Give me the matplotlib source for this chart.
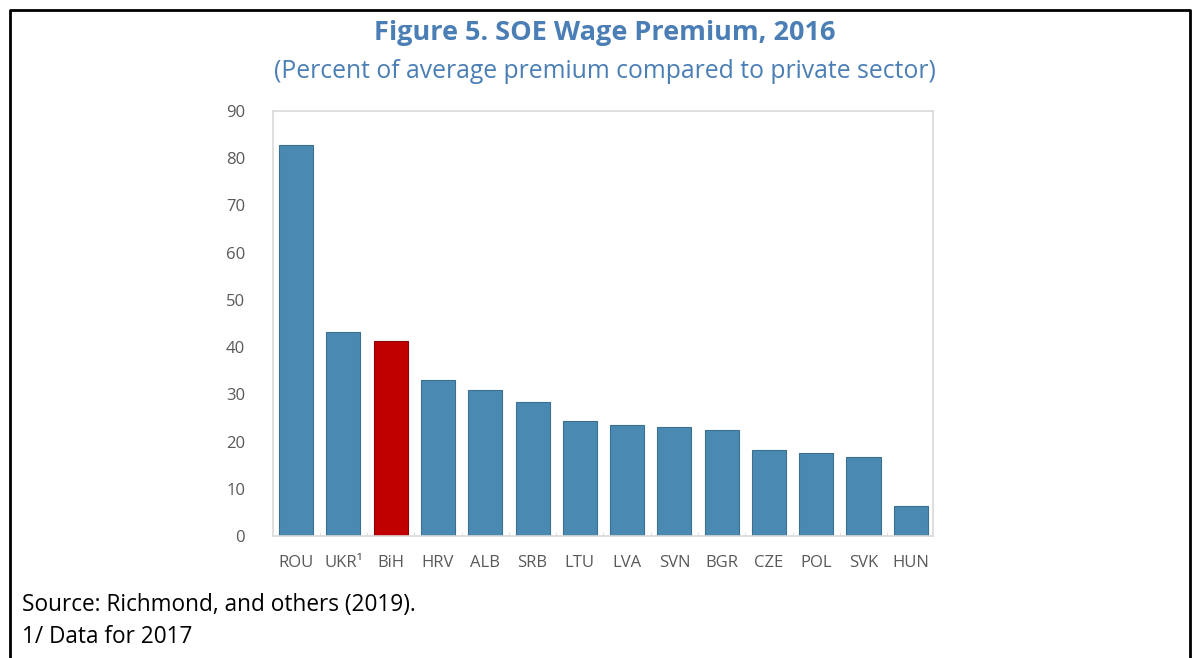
import matplotlib.pyplot as plt
from matplotlib.lines import Line2D
import numpy as np

plt.rcParams['font.family'] = ['Open Sans', 'DejaVu Sans']

countries = ['ROU', 'UKR\u00b9', 'BiH', 'HRV', 'ALB', 'SRB', 'LTU', 'LVA', 'SVN', 'BGR', 'CZE', 'POL', 'SVK', 'HUN']
premium = [82.8, 43.1, 41.4, 33.0, 31.0, 28.3, 24.4, 23.6, 23.0, 22.5, 18.3, 17.6, 16.8, 6.4]
highlight = 'BiH'

blue = '#4A8AB2'
red = '#C00000'
title_blue = '#4A7EB5'

fig = plt.figure(figsize=(11.98, 6.58), dpi=100)
ax = fig.add_axes([273/1198, 1-536/658, (933-273)/1198, (536-111)/658])

x = np.arange(len(countries))
colors = [red if c == highlight else blue for c in countries]
edges = ['#8B0000' if c == highlight else '#3A6F8F' for c in countries]
ax.bar(x, premium, width=0.72, color=colors, edgecolor=edges, linewidth=0.8, zorder=2)

ax.set_xlim(-0.49, 13.47)
ax.set_ylim(0, 90)
ax.set_yticks(range(0, 91, 10))
ax.set_xticks(x)
ax.set_xticklabels(countries)
ax.set_xticks(x[:-1] + 0.5, minor=True)
ax.tick_params(axis='both', which='major', length=0, labelsize=12, labelcolor='#595959')
ax.tick_params(axis='x', which='major', pad=14)
ax.tick_params(axis='y', which='major', pad=20)
ax.tick_params(axis='x', which='minor', length=3, color='#D9D9D9', direction='in')
for s in ax.spines.values():
    s.set_color('#D9D9D9')
    s.set_linewidth(1.2)

# titles
fig.text(605/1198, 1-33/658, 'Figure 5. SOE Wage Premium, 2016', ha='center', va='center',
         fontsize=19.5, fontweight='bold', color=title_blue)
fig.text(605/1198, 1-72/658, '(Percent of average premium compared to private sector)', ha='center', va='center',
         fontsize=17.8, color=title_blue)

# notes
fig.text(22/1198, 1-605/658, 'Source: Richmond, and others (2019).', ha='left', va='center', fontsize=16.3, color='black')
fig.text(22/1198, 1-637/658, '1/ Data for 2017', ha='left', va='center', fontsize=16.3, color='black')

# box border (top, left, right)
fig.add_artist(Line2D([10/1198, 10/1198, 1190/1198, 1190/1198], [0, 1-10/658, 1-10/658, 0],
                      transform=fig.transFigure, color='black', linewidth=2))

fig.savefig('out.png', dpi=100)
